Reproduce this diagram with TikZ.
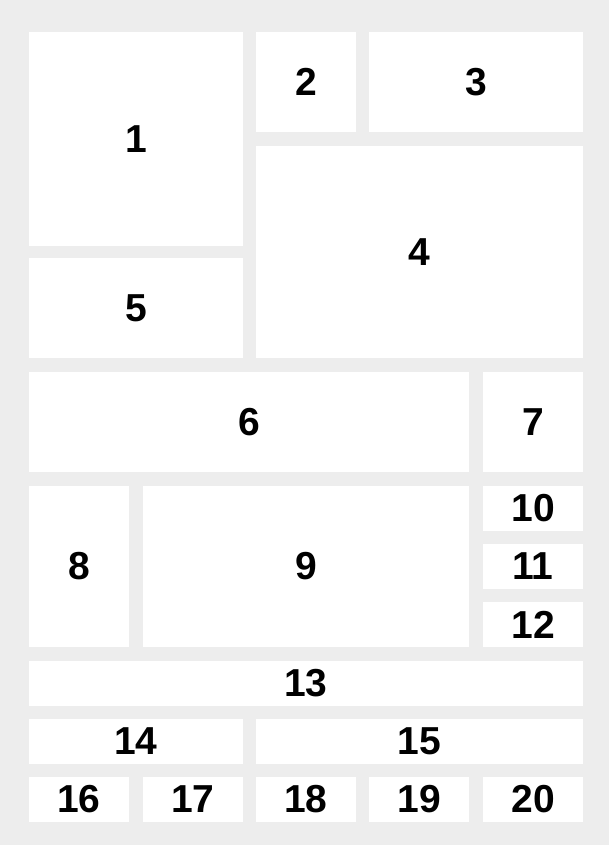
\documentclass[tikz,border=0pt]{standalone}
\usepackage{fontspec}
\setmainfont{Liberation Sans}
\definecolor{bg}{HTML}{EDEDED}
\tikzset{
  cell/.style={fill=white, draw=none, inner sep=0pt, outer sep=0pt,
    font=\fontsize{39}{42}\selectfont\bfseries, text=black}
}
\begin{document}
\begin{tikzpicture}[x=1pt,y=-1pt]
\fill[bg] (0,0) rectangle (609,845);
\useasboundingbox (0,0) rectangle (609,845);
\node[cell, minimum width=214pt, minimum height=214pt] (n1) at (136,139) {1};
\node[cell, minimum width=100pt, minimum height=100pt] (n2) at (306,82) {2};
\node[cell, minimum width=214pt, minimum height=100pt] (n3) at (476,82) {3};
\node[cell, minimum width=327pt, minimum height=212pt] (n4) at (419.5,252) {4};
\node[cell, minimum width=214pt, minimum height=100pt] (n5) at (136,308) {5};
\node[cell, minimum width=440pt, minimum height=100pt] (n6) at (249,422) {6};
\node[cell, minimum width=100pt, minimum height=100pt] (n7) at (533,422) {7};
\node[cell, minimum width=100pt, minimum height=161pt] (n8) at (79,566.5) {8};
\node[cell, minimum width=326pt, minimum height=161pt] (n9) at (306,566.5) {9};
\node[cell, minimum width=100pt, minimum height=45pt] (n10) at (533,508.5) {10};
\node[cell, minimum width=100pt, minimum height=45pt] (n11) at (533,566.5) {11};
\node[cell, minimum width=100pt, minimum height=45pt] (n12) at (533,624.5) {12};
\node[cell, minimum width=554pt, minimum height=45pt] (n13) at (306,683.5) {13};
\node[cell, minimum width=214pt, minimum height=45pt] (n14) at (136,741.5) {14};
\node[cell, minimum width=327pt, minimum height=45pt] (n15) at (419.5,741.5) {15};
\node[cell, minimum width=100pt, minimum height=45pt] (n16) at (79,799.5) {16};
\node[cell, minimum width=100pt, minimum height=45pt] (n17) at (193,799.5) {17};
\node[cell, minimum width=100pt, minimum height=45pt] (n18) at (306,799.5) {18};
\node[cell, minimum width=100pt, minimum height=45pt] (n19) at (419,799.5) {19};
\node[cell, minimum width=100pt, minimum height=45pt] (n20) at (533,799.5) {20};
\end{tikzpicture}
\end{document}
